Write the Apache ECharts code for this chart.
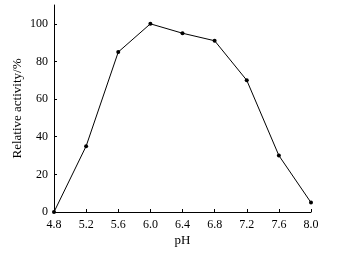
<!DOCTYPE html>
<html>
<head>
<meta charset="utf-8">
<script src="https://cdn.jsdelivr.net/npm/echarts@6/dist/echarts.min.js"></script>
<style>
  html, body { margin: 0; padding: 0; background: #fff; }
  #chart { width: 346px; height: 253px; }
</style>
</head>
<body>
<div id="chart"></div>
<script>
// pH values on the x axis
const phLabels = ['4.8', '5.2', '5.6', '6.0', '6.4', '6.8', '7.2', '7.6', '8.0'];
// relative activity (%)
const activity = [0, 35, 85, 100, 95, 91, 70, 30, 5];

const FONT = 'Liberation Serif';

const myChart = echarts.init(document.getElementById('chart'));

const option = {
  backgroundColor: '#fff',
  animation: false,
  grid: {
    left: 54,
    right: 35,
    top: 5,
    bottom: 41
  },
  xAxis: {
    type: 'category',
    data: phLabels,
    boundaryGap: false,
    name: 'pH',
    nameLocation: 'middle',
    nameGap: 22,
    nameMoveOverlap: false,
    nameTextStyle: { fontFamily: FONT, fontSize: 13, color: '#000' },
    axisLine: { lineStyle: { color: '#000', width: 1 } },
    axisTick: { inside: true, length: 3, lineStyle: { color: '#000' } },
    axisLabel: { fontFamily: FONT, fontSize: 12, color: '#000', margin: 7 },
    splitLine: { show: false }
  },
  yAxis: {
    type: 'value',
    min: 0,
    max: 110,
    interval: 20,
    name: 'Relative activity/%',
    nameLocation: 'middle',
    nameGap: 30,
    nameMoveOverlap: false,
    nameTextStyle: { fontFamily: FONT, fontSize: 13, color: '#000' },
    axisLine: { show: true, lineStyle: { color: '#000', width: 1 } },
    axisTick: { show: true, inside: true, length: 3, lineStyle: { color: '#000' } },
    axisLabel: {
      fontFamily: FONT,
      fontSize: 12,
      color: '#000',
      margin: 6,
      showMaxLabel: false,
      formatter: (v) => (v > 100 ? '' : v)
    },
    splitLine: { show: false }
  },
  series: [
    {
      type: 'line',
      data: activity,
      symbol: 'circle',
      symbolSize: 4,
      lineStyle: { color: '#000', width: 1 },
      itemStyle: { color: '#000' }
    }
  ]
};

myChart.setOption(option);
</script>
</body>
</html>
